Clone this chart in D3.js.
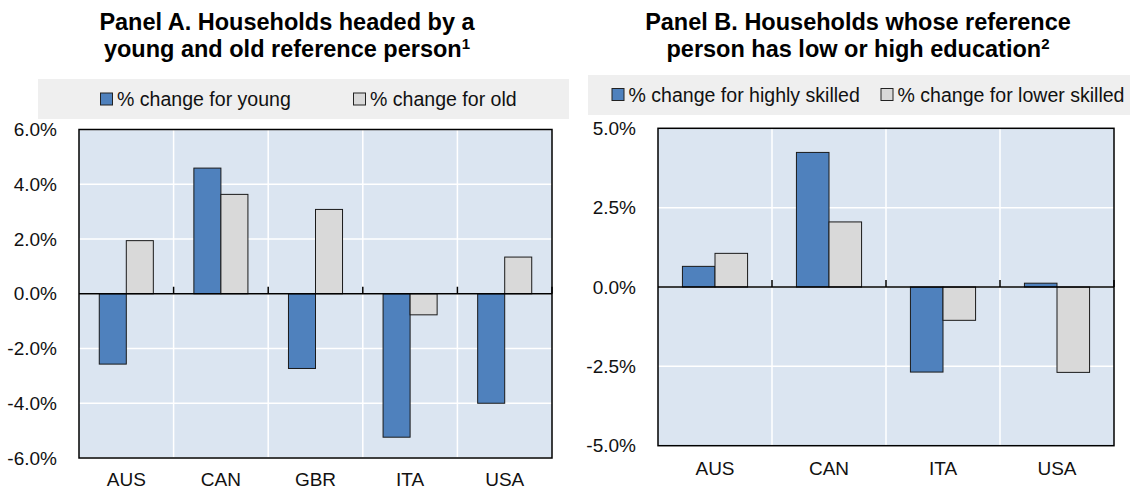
<!DOCTYPE html>
<html>
<head>
<meta charset="utf-8">
<script src="https://cdn.jsdelivr.net/npm/d3@7"></script>
<style>
  body { margin: 0; background: #fff; }
  svg { display: block; font-family: "Liberation Sans", Arial, sans-serif; }
</style>
</head>
<body>
<div id="chart"></div>
<script>
// Panel A data
const countriesA = ["AUS", "CAN", "GBR", "ITA", "USA"];
const youngChange = [-2.57, 4.59, -2.73, -5.24, -4.0];
const oldChange = [1.94, 3.63, 3.08, -0.77, 1.34];
const ticksA = [-6, -4, -2, 0, 2, 4, 6];

// Panel B data
const countriesB = ["AUS", "CAN", "ITA", "USA"];
const highSkilled = [0.65, 4.24, -2.68, 0.12];
const lowerSkilled = [1.06, 2.05, -1.05, -2.69];
const ticksB = [-5, -2.5, 0, 2.5, 5];

const width = 1130, height = 490;
const blue = "#4f81bd", grey = "#d9d9d9";

const svg = d3.select("#chart")
    .append("svg")
    .attr("width", width)
    .attr("height", height);

function createPanel(opts) {
    const { left, right, top, bottom, categories, series, ticks, titleLines, titleNote, titleX,
            legend, tickFmt, labelRight, xLabelY } = opts;

    const yScale = d3.scaleLinear()
        .domain([ticks[0], ticks[ticks.length - 1]])
        .range([bottom, top]);
    const xScale = d3.scaleBand().domain(categories).range([left, right]).padding(0);
    const subScale = d3.scaleBand()
        .domain(series.map(s => s.name))
        .range([0, xScale.bandwidth()])
        .paddingInner(0)
        .paddingOuter(0.75);

    const g = svg.append("g");

    // title, second line ends with a footnote marker
    g.append("text")
        .attr("x", titleX).attr("y", 29.5)
        .attr("text-anchor", "middle")
        .attr("font-weight", "bold")
        .attr("font-size", 23.5)
        .attr("fill", "#000")
        .text(titleLines[0]);
    const line2 = g.append("text")
        .attr("x", titleX).attr("y", 56.5)
        .attr("text-anchor", "middle")
        .attr("font-weight", "bold")
        .attr("font-size", 23.5)
        .attr("fill", "#000");
    line2.append("tspan").text(titleLines[1]);
    line2.append("tspan").attr("font-size", 15).attr("dy", -8).text(titleNote);

    // legend band
    g.append("rect")
        .attr("x", legend.x0).attr("y", legend.y0)
        .attr("width", legend.x1 - legend.x0).attr("height", 40)
        .attr("fill", "#efefef");
    series.forEach((s, i) => {
        const item = g.append("g").attr("transform", `translate(${legend.items[i]},${legend.y0})`);
        item.append("rect")
            .attr("x", 0.5).attr("y", legend.boxY)
            .attr("width", 12).attr("height", 12)
            .attr("fill", s.color).attr("stroke", "#222").attr("stroke-width", 1);
        item.append("text")
            .attr("transform", "translate(17,0) scale(0.94,1)")
            .attr("y", legend.textY)
            .attr("font-size", 20.8)
            .attr("fill", "#111")
            .text(s.label);
    });

    // plot background
    g.append("rect")
        .attr("x", left).attr("y", top)
        .attr("width", right - left).attr("height", bottom - top)
        .attr("fill", "#dbe5f1");

    // horizontal grid
    g.append("g").selectAll("line")
        .data(ticks)
        .join("line")
        .attr("x1", left).attr("x2", right)
        .attr("y1", d => yScale(d)).attr("y2", d => yScale(d))
        .attr("stroke", "#fff").attr("stroke-width", 1.5);

    // vertical grid at category boundaries
    g.append("g").selectAll("line")
        .data(categories.slice(1))
        .join("line")
        .attr("x1", d => xScale(d)).attr("x2", d => xScale(d))
        .attr("y1", top).attr("y2", bottom)
        .attr("stroke", "#fff").attr("stroke-width", 1.5);

    // bars
    series.forEach(s => {
        g.append("g").selectAll("rect")
            .data(categories.map((c, i) => ({ c, v: s.values[i] })))
            .join("rect")
            .attr("x", d => xScale(d.c) + subScale(s.name))
            .attr("width", subScale.bandwidth())
            .attr("y", d => yScale(Math.max(0, d.v)))
            .attr("height", d => Math.abs(yScale(d.v) - yScale(0)))
            .attr("fill", s.color)
            .attr("stroke", "#1a1a1a")
            .attr("stroke-width", 1);
    });

    // zero line with small category ticks
    g.append("line")
        .attr("x1", left).attr("x2", right)
        .attr("y1", yScale(0)).attr("y2", yScale(0))
        .attr("stroke", "#000").attr("stroke-width", 1.5);
    g.append("g").selectAll("line")
        .data(categories.slice(1).map(c => xScale(c)).concat([right]))
        .join("line")
        .attr("x1", d => d).attr("x2", d => d)
        .attr("y1", yScale(0)).attr("y2", yScale(0) - 7)
        .attr("stroke", "#000").attr("stroke-width", 1.5);

    // frame
    g.append("rect")
        .attr("x", left).attr("y", top)
        .attr("width", right - left).attr("height", bottom - top)
        .attr("fill", "none").attr("stroke", "#000").attr("stroke-width", 1.5);

    // y axis labels
    const yAxis = d3.axisLeft(yScale).tickValues(ticks).tickFormat(tickFmt).tickSize(0).tickPadding(0);
    const yg = g.append("g").attr("transform", `translate(${labelRight},0)`).call(yAxis);
    yg.select(".domain").remove();
    yg.selectAll("text").attr("font-size", 19).attr("fill", "#111")
        .attr("font-family", "'Liberation Sans', Arial, sans-serif");

    // x axis labels
    const xAxis = d3.axisBottom(xScale).tickSize(0).tickPadding(0);
    const xg = g.append("g").attr("transform", `translate(0,${xLabelY})`).call(xAxis);
    xg.select(".domain").remove();
    xg.selectAll("text").attr("font-size", 19).attr("fill", "#111").attr("dy", 0)
        .attr("font-family", "'Liberation Sans', Arial, sans-serif");
}

createPanel({
    left: 79, right: 552, top: 129.5, bottom: 458,
    categories: countriesA,
    series: [
        { name: "young", label: "% change for young", values: youngChange, color: blue },
        { name: "old", label: "% change for old", values: oldChange, color: grey }
    ],
    ticks: ticksA,
    titleLines: ["Panel A. Households headed by a", "young and old reference person"],
    titleNote: "1",
    titleX: 287,
    legend: { x0: 38, x1: 569, y0: 79, items: [100, 353], boxY: 14, textY: 27.5 },
    tickFmt: d => d.toFixed(1) + "%",
    labelRight: 57,
    xLabelY: 486
});

createPanel({
    left: 658, right: 1114, top: 128.3, bottom: 445.7,
    categories: countriesB,
    series: [
        { name: "high", label: "% change for highly skilled", values: highSkilled, color: blue },
        { name: "lower", label: "% change for lower skilled", values: lowerSkilled, color: grey }
    ],
    ticks: ticksB,
    titleLines: ["Panel B. Households whose reference", "person has low or high education"],
    titleNote: "2",
    titleX: 858,
    legend: { x0: 588, x1: 1130, y0: 75, items: [611.5, 880.5], boxY: 13.5, textY: 27.5 },
    tickFmt: d => d.toFixed(1) + "%",
    labelRight: 636,
    xLabelY: 475
});
</script>
</body>
</html>
